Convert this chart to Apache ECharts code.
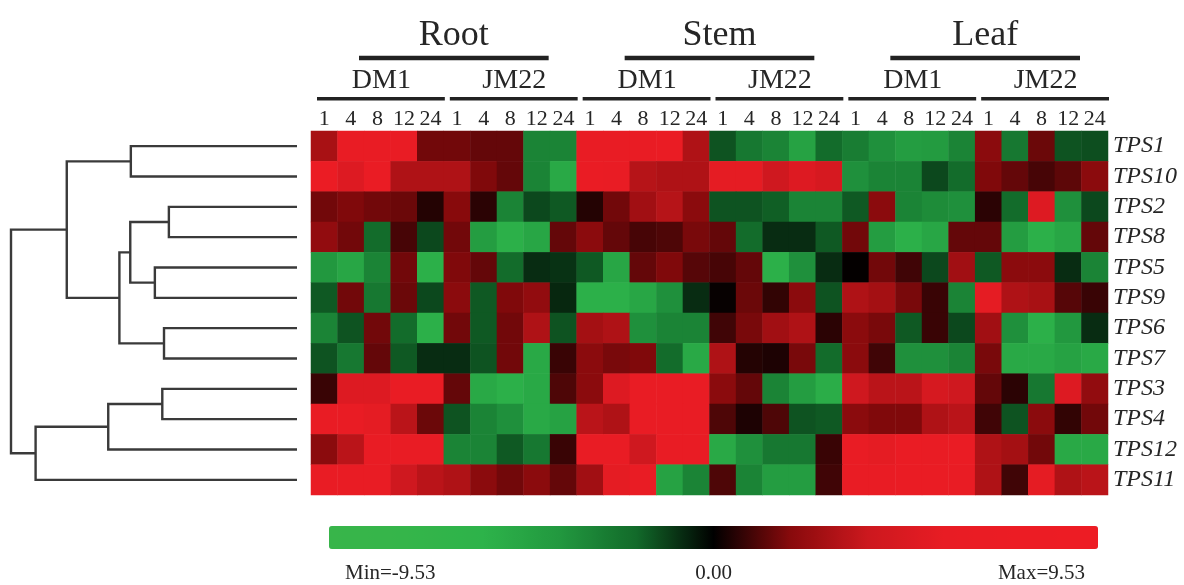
<!DOCTYPE html>
<html>
<head>
<meta charset="utf-8">
<script src="https://cdn.jsdelivr.net/npm/echarts@6/dist/echarts.min.js"></script>
<style>html,body{margin:0;padding:0;background:#fff;}#c{width:1184px;height:585px;}</style>
</head>
<body>
<div id="c"></div>
<script>
const genes = ['TPS1','TPS10','TPS2','TPS8','TPS5','TPS9','TPS6','TPS7','TPS3','TPS4','TPS12','TPS11'];
const tissues = ['Root','Stem','Leaf'];
const genotypes = ['DM1','JM22'];
const times = ['1','4','8','12','24'];
const colorMin = -9.53;
const colorMax = 9.53;

// expression values, one array per gene (Root DM1, Root JM22, Stem DM1, Stem JM22, Leaf DM1, Leaf JM22; times 1,4,8,12,24)
const TPS1  = [2.8,6,6,6,1.6, 1.6,1.4,1.4,-3,-3, 6,6,6,6.5,3, -1.5,-2.5,-3,-4.5,-2, -2.7,-3.5,-4.2,-4,-3, 2,-2.5,1.5,-1.5,-1.4];
const TPS10 = [7,5,6.5,3,3, 3,1.8,1.4,-3,-5, 6.5,6,3.2,3,3, 5.5,5.5,4,5,4.5, -3.5,-3,-3,-1.3,-2, 1.8,1.4,1.0,1.3,2];
const TPS2  = [1.6,1.8,1.6,1.5,0.5, 1.9,0.6,-3,-1.3,-1.6, 0.5,1.6,2.6,3.2,2, -1.5,-1.5,-1.7,-3,-3, -1.6,2,-3,-3.3,-3.5, 0.6,-2,5,-3.5,-1.3];
const TPS8  = [2.2,1.6,-2,1.0,-1.3, 1.6,-4.2,-5.5,-4.8,1.4, 2,1.4,1.0,1.1,1.7, 1.4,-2,-0.8,-0.8,-1.6, 1.6,-4.2,-5.5,-4.8,1.4, 1.4,-4.2,-5.5,-4.8,1.4];
const TPS5  = [-3.8,-4.8,-3,1.6,-5.5, 1.8,1.4,-2,-0.8,-0.9, -1.6,-4.8,1.4,1.8,1.2, 1.0,1.4,-5.5,-3.5,-0.8, 0.05,1.6,0.9,-1.3,2.6, -1.6,2,2,-0.8,-3];
const TPS9  = [-1.6,1.6,-2.5,1.5,-1.3, 2,-1.6,1.8,2.2,-0.7, -5.5,-5.5,-4.8,-3.5,-0.8, 0.1,1.5,0.7,2,-1.5, 3,2.7,1.7,0.8,-3, 5.5,3,2.8,1.2,0.8];
const TPS6  = [-3,-1.5,1.6,-2,-5.5, 1.6,-1.6,1.6,3,-1.5, 2.7,3,-3.5,-3,-3, 0.9,1.7,2.6,3,0.6, 2,1.7,-1.6,0.8,-1.3, 2.6,-3.5,-5.5,-3.8,-0.8];
const TPS7  = [-1.5,-2.5,1.4,-1.6,-0.8, -0.8,-1.5,1.6,-5,0.8, 2,1.7,1.8,-2,-5, 3,0.5,0.4,1.7,-2, 2,0.9,-3.5,-3.5,-3, 1.7,-5,-5,-4.5,-5];
const TPS3  = [0.8,5,5,6,6, 1.4,-5,-5.5,-5,1.1, 2,5,6,6,6, 2,1.4,-3,-4.2,-5.3, 4,3.3,3.3,4.5,4, 1.4,0.6,-2.5,5,2.2];
const TPS4  = [6,6,5.5,3.3,1.5, -1.5,-3,-3.5,-5,-4.5, 3.3,3,6,6,6, 1.1,0.4,1.1,-1.5,-1.6, 2,1.8,1.8,3,3.3, 0.9,-1.5,2,0.7,1.6];
const TPS12 = [2,3.3,6,6,6, -3,-3,-1.6,-2.5,0.8, 6,6,4,6,6, -5,-3.5,-2.5,-2.5,0.8, 6,5.5,6.5,6,6.5, 3,2.7,1.6,-5,-5];
const TPS11 = [6,6,6,4,3.3, 3,2,1.6,2,1.4, 2.6,5.5,6,-4.5,-3, 1.1,-3,-4.2,-4.2,0.9, 6,6,6.5,6.5,6, 3,0.9,5.5,3,3.3];
const geneValues = [TPS1,TPS10,TPS2,TPS8,TPS5,TPS9,TPS6,TPS7,TPS3,TPS4,TPS12,TPS11];

// dendrogram merges: [child A, child B, distance]; 'mN' refers to merge N
const merges = [
  ['TPS1','TPS10',0.581],
  ['TPS2','TPS8',0.448],
  ['TPS5','TPS9',0.497],
  ['m1','m2',0.583],
  ['TPS6','TPS7',0.465],
  ['m3','m4',0.621],
  ['m0','m5',0.805],
  ['TPS3','TPS4',0.471],
  ['m7','TPS12',0.66],
  ['m8','TPS11',0.914],
  ['m6','m9',1.0]
];

// build columns
const columns = [];
tissues.forEach(t => genotypes.forEach(g => times.forEach(h => columns.push(t + ' ' + g + ' ' + h))));
const heatData = [];
geneValues.forEach((arr, r) => arr.forEach((v, c) => heatData.push([c, r, v])));

// dendrogram node positions
const nodes = [];
function nodeOf(name) {
  if (name.charAt(0) === 'm') return nodes[parseInt(name.slice(1), 10)];
  return { y: genes.indexOf(name), h: 0 };
}
const dendroData = [];
merges.forEach(m => {
  const a = nodeOf(m[0]), b = nodeOf(m[1]);
  nodes.push({ y: (a.y + b.y) / 2, h: m[2] });
  dendroData.push([a.h, a.y, b.h, b.y, m[2]]);
});

const serif = '"Liberation Serif", "DejaVu Serif", serif';
const txtColor = '#262626';

const chart = echarts.init(document.getElementById('c'), null, { renderer: 'canvas' });
const gridTop = 131, gridBottom = 90;
const option = {
  animation: false,
  backgroundColor: '#fff',
  grid: [
    { left: 311, right: 76, top: gridTop, bottom: gridBottom },
    { left: 11, width: 286, top: gridTop, bottom: gridBottom }
  ],
  xAxis: [
    {
      type: 'category', data: columns, position: 'top', gridIndex: 0,
      axisLine: { show: false }, axisTick: { show: false }, splitLine: { show: false },
      axisLabel: {
        interval: 0, margin: 1, color: txtColor, fontFamily: serif, fontSize: 22,
        formatter: (v) => v.split(' ')[2]
      }
    },
    { type: 'value', gridIndex: 1, min: 0, max: 1, inverse: true, show: false }
  ],
  yAxis: [
    {
      type: 'category', data: genes, inverse: true, position: 'right', gridIndex: 0,
      axisLine: { show: false }, axisTick: { show: false }, splitLine: { show: false },
      axisLabel: { interval: 0, margin: 5, color: txtColor, fontFamily: serif, fontSize: 24, fontStyle: 'italic' }
    },
    { type: 'value', gridIndex: 1, min: -0.5, max: genes.length - 0.5, inverse: true, show: false }
  ],
  visualMap: {
    type: 'continuous', min: colorMin, max: colorMax, seriesIndex: 0,
    orient: 'horizontal', left: 329, top: 526, itemWidth: 23, itemHeight: 769,
    padding: 0, calculable: false, realtime: false, text: null, showLabel: false,
    inRange: {
      color: ['#38b54a','#35b54a','#2db34a','#22983f','#126a2a','#000000','#880a0c','#cc181e','#e81c24','#ec1c24','#ed1c24']
    }
  },
  series: [
    {
      type: 'heatmap', xAxisIndex: 0, yAxisIndex: 0, data: heatData,
      itemStyle: { borderWidth: 0 },
      emphasis: { disabled: true }
    },
    {
      type: 'custom', xAxisIndex: 1, yAxisIndex: 1, data: dendroData, silent: true,
      renderItem: function (params, api) {
        const hA = api.value(0), yA = api.value(1), hB = api.value(2), yB = api.value(3), h = api.value(4);
        const p1 = api.coord([hA, yA]), p2 = api.coord([h, yA]), p3 = api.coord([h, yB]), p4 = api.coord([hB, yB]);
        return {
          type: 'polyline',
          shape: { points: [p1, p2, p3, p4] },
          style: { stroke: '#3a3a3a', lineWidth: 2.4, fill: null, lineJoin: 'miter' }
        };
      }
    }
  ]
};
chart.setOption(option);

// header annotations computed from the axis
const c0 = chart.convertToPixel({ xAxisIndex: 0 }, 0);
const c1 = chart.convertToPixel({ xAxisIndex: 0 }, 1);
const w = c1 - c0;
const colLeft = (i) => chart.convertToPixel({ xAxisIndex: 0 }, i) - w / 2;
const graphics = [];
tissues.forEach((t, ti) => {
  const L = colLeft(ti * 10), R = colLeft(ti * 10 + 9) + w;
  const bl = L + 48, br = R - 28;
  graphics.push({ type: 'line', shape: { x1: bl, y1: 58, x2: br, y2: 58 }, style: { stroke: '#222', lineWidth: 4.5 } });
  graphics.push({ type: 'text', x: (bl + br) / 2, y: 36, style: { text: t, fill: txtColor, font: '36px ' + serif, align: 'center', verticalAlign: 'middle' } });
  genotypes.forEach((g, gi) => {
    const s = ti * 10 + gi * 5;
    const gl = colLeft(s), gr = colLeft(s + 4) + w;
    graphics.push({ type: 'line', shape: { x1: gl + 6, y1: 98.7, x2: gr + 1, y2: 98.7 }, style: { stroke: '#222', lineWidth: 3.5 } });
    graphics.push({ type: 'text', x: (gl + gr) / 2 + 4, y: 80.5, style: { text: g, fill: txtColor, font: '28px ' + serif, align: 'center', verticalAlign: 'middle' } });
  });
});
// colorbar labels
const vmLeft = 329, vmLen = 769;
graphics.push({ type: 'text', x: vmLeft + 16, y: 573.5, style: { text: 'Min=' + colorMin.toFixed(2), fill: txtColor, font: '21px ' + serif, align: 'left', verticalAlign: 'middle' } });
graphics.push({ type: 'text', x: vmLeft + vmLen / 2, y: 573.5, style: { text: (0).toFixed(2), fill: txtColor, font: '21px ' + serif, align: 'center', verticalAlign: 'middle' } });
graphics.push({ type: 'text', x: vmLeft + vmLen - 13, y: 573.5, style: { text: 'Max=' + colorMax.toFixed(2), fill: txtColor, font: '21px ' + serif, align: 'right', verticalAlign: 'middle' } });
chart.setOption({ graphic: graphics });
</script>
</body>
</html>
